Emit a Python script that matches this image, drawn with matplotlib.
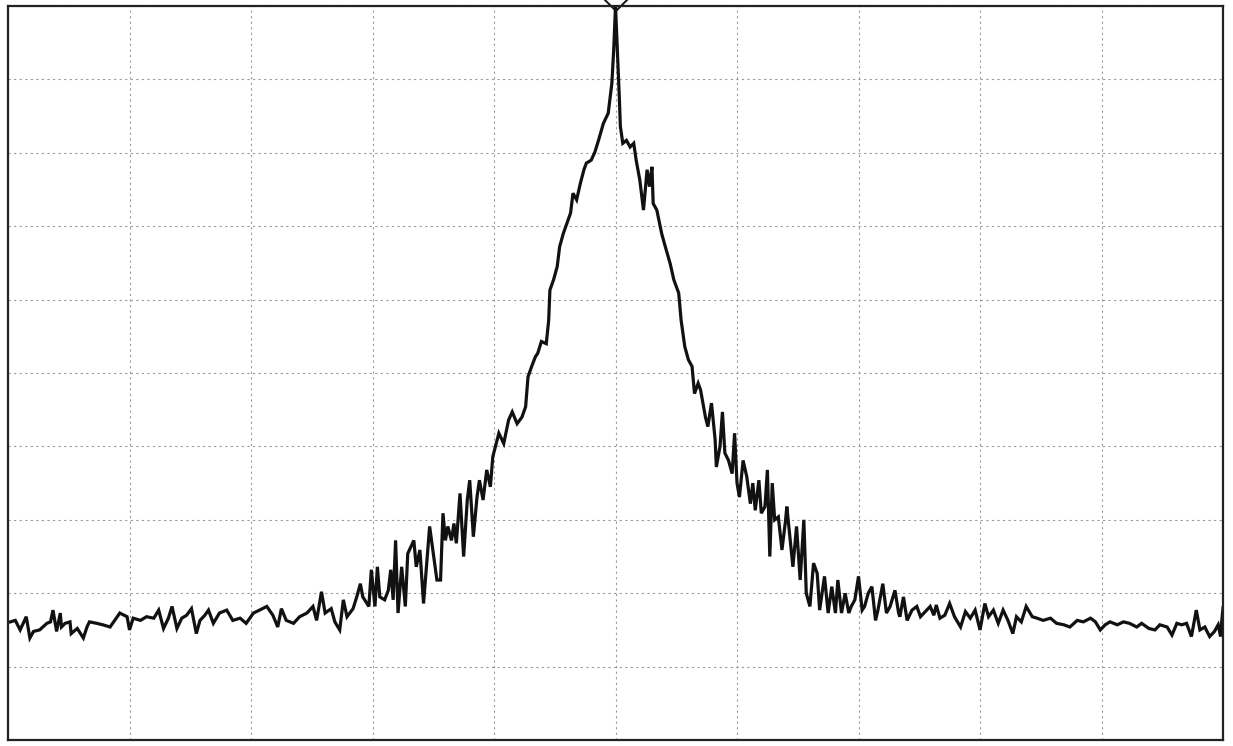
import matplotlib
matplotlib.use("Agg")
import matplotlib.pyplot as plt

# trace readout: horizontal position in divisions (0..10), level in dB (ref 0 dB, 10 dB/div)
freq_div = [
    0.02, 0.06, 0.10, 0.15, 0.18, 0.21, 0.26, 0.32, 0.35, 0.37, 0.40, 0.43, 0.44, 0.47,
    0.51, 0.52, 0.57, 0.62, 0.65, 0.67, 0.73, 0.78, 0.84, 0.89, 0.92, 0.98, 1.00, 1.03,
    1.09, 1.14, 1.20, 1.24, 1.28, 1.32, 1.35, 1.39, 1.43, 1.47, 1.51, 1.55, 1.58, 1.62,
    1.65, 1.69, 1.74, 1.80, 1.85, 1.91, 1.96, 2.02, 2.07, 2.13, 2.18, 2.22, 2.25, 2.29,
    2.35, 2.40,
    2.46, 2.51, 2.54, 2.58, 2.61, 2.66, 2.69, 2.73, 2.76, 2.79, 2.84, 2.87, 2.90, 2.92,
    2.97, 2.99, 3.02, 3.04, 3.06, 3.10, 3.13, 3.15, 3.17, 3.19, 3.21, 3.24, 3.27, 3.29,
    3.34, 3.36, 3.39, 3.42, 3.45, 3.47, 3.50, 3.53, 3.56, 3.58, 3.60, 3.62, 3.65, 3.67,
    3.69, 3.72, 3.75, 3.78, 3.80, 3.83, 3.86, 3.88, 3.91, 3.94, 3.97,
    3.99, 4.04, 4.08, 4.12, 4.15, 4.19, 4.23, 4.26, 4.28, 4.31, 4.34, 4.36, 4.39, 4.43,
    4.45, 4.46, 4.49, 4.52, 4.54, 4.57, 4.60, 4.63, 4.65, 4.68, 4.71, 4.74, 4.76, 4.80,
    4.83, 4.86, 4.90, 4.94, 4.97, 4.985, 5.00, 5.015, 5.03, 5.04, 5.06, 5.09, 5.12, 5.15,
    5.17, 5.20, 5.23, 5.26, 5.28, 5.30, 5.31, 5.34, 5.38, 5.41, 5.45, 5.48, 5.52, 5.54,
    5.57, 5.60, 5.63, 5.65, 5.68,
    5.70, 5.74, 5.76, 5.79, 5.82, 5.83, 5.86, 5.88, 5.90, 5.93, 5.96, 5.98, 6.00, 6.02,
    6.05, 6.08, 6.11, 6.13, 6.15, 6.18, 6.20, 6.23, 6.25, 6.27, 6.29, 6.31, 6.34, 6.37,
    6.40, 6.41, 6.44, 6.46, 6.49, 6.52, 6.55, 6.57, 6.60, 6.63, 6.66, 6.68, 6.72, 6.75,
    6.78, 6.81, 6.83, 6.86, 6.89, 6.92, 6.94, 6.97, 7.00, 7.03, 7.05, 7.08, 7.11, 7.14,
    7.16, 7.20, 7.23, 7.26, 7.30, 7.33,
    7.34, 7.37, 7.40, 7.44, 7.48, 7.51, 7.55, 7.59, 7.62, 7.64, 7.67, 7.71, 7.75, 7.79,
    7.84, 7.88, 7.92, 7.96, 8.00, 8.04, 8.07, 8.11, 8.15, 8.19, 8.23, 8.27, 8.30, 8.34,
    8.38, 8.43, 8.47, 8.52, 8.58, 8.63, 8.69, 8.74, 8.80, 8.85, 8.91, 8.95, 8.99, 9.03,
    9.07, 9.13, 9.18, 9.23, 9.29, 9.33, 9.39, 9.44, 9.48, 9.54, 9.58, 9.62, 9.66, 9.70,
    9.74, 9.78, 9.81, 9.85, 9.89, 9.93, 9.96, 9.98, 9.99, 10.00,
]
level_db = [
    -83.9, -83.7, -85.0, -83.2, -86.1, -85.2, -85.0, -84.1, -83.9, -82.3, -85.2, -82.7, -84.6, -84.1,
    -83.9, -85.5, -84.8, -86.1, -84.6, -83.9, -84.1, -84.3, -84.6, -83.4, -82.7, -83.2, -85.0, -83.4,
    -83.7, -83.2, -83.4, -82.3, -84.8, -83.4, -81.8, -84.8, -83.4, -83.0, -82.1, -85.5, -83.7, -83.0,
    -82.3, -84.1, -82.7, -82.3, -83.7, -83.4, -84.1, -82.7, -82.3, -81.8, -83.0, -84.6, -82.1, -83.7,
    -84.1, -83.2,
    -82.7, -81.8, -83.7, -79.8, -82.7, -82.1, -83.9, -85.0, -80.9, -83.2, -82.1, -80.5, -78.7, -80.5,
    -81.8, -76.8, -81.8, -76.4, -80.5, -80.9, -79.6, -76.8, -80.9, -72.8, -82.7, -76.4, -81.8, -74.6,
    -72.8, -76.4, -74.1, -81.4, -75.0, -70.9, -74.6, -78.2, -78.2, -69.1, -72.8, -70.9, -72.8, -70.5,
    -73.2, -66.4, -75.0, -67.3, -64.6, -72.3, -66.9, -64.6, -67.3, -63.2, -65.5,
    -61.4, -58.2, -59.6, -56.4, -55.3, -56.9, -56.0, -54.6, -50.5, -49.1, -47.8, -47.3, -45.7, -46.0,
    -42.8, -38.7, -37.3, -35.5, -32.8, -31.0, -29.6, -28.2, -25.5, -26.4, -24.2, -22.3, -21.4, -21.0,
    -19.9, -18.3, -16.0, -14.6, -10.5, -6.0, 0.0, -6.0, -11.9, -16.4, -18.7, -18.3, -19.2, -18.7,
    -21.0, -23.7, -27.8, -22.3, -24.6, -21.9, -26.9, -27.8, -31.0, -32.8, -35.1, -37.3, -39.1, -42.8,
    -46.4, -48.2, -49.1, -52.8, -51.4,
    -52.3, -56.0, -57.3, -54.1, -59.1, -62.8, -60.0, -55.3, -60.9, -61.9, -63.7, -58.2, -65.0, -66.9,
    -61.9, -64.1, -67.8, -65.0, -68.7, -64.6, -69.1, -68.2, -63.2, -75.0, -65.0, -70.0, -69.6, -74.1,
    -70.0, -68.2, -73.2, -76.4, -70.9, -78.2, -70.0, -80.0, -81.8, -75.9, -77.3, -82.3, -77.7, -82.7,
    -79.1, -82.7, -78.2, -82.7, -80.0, -82.7, -81.8, -80.9, -77.7, -82.3, -81.8, -80.0, -79.1, -83.7,
    -82.3, -78.7, -82.7, -81.8, -79.6, -82.7,
    -83.2, -80.5, -83.7, -82.3, -81.8, -83.2, -82.5, -81.8, -83.0, -81.6, -83.4, -83.0, -81.4, -83.2,
    -84.6, -82.5, -83.4, -82.3, -85.0, -81.4, -83.2, -82.3, -84.1, -82.3, -83.7, -85.5, -83.2, -83.9,
    -81.8, -83.2, -83.4, -83.7, -83.4, -84.1, -84.3, -84.6, -83.7, -83.9, -83.4, -83.9, -85.0, -84.3,
    -83.9, -84.3, -83.9, -84.1, -84.6, -84.1, -84.8, -85.0, -84.3, -84.6, -85.7, -84.1, -84.3, -84.1,
    -85.9, -82.3, -85.0, -84.6, -85.9, -85.2, -84.3, -85.9, -83.7, -82.0,
]

ref_level = 0.0
db_per_div = 10
n_div = 10

fig = plt.figure(figsize=(12.33, 7.46), dpi=100)
ax = fig.add_axes([0.0065, 0.008, 0.9854, 0.9839])

ax.plot(freq_div, level_db, color="#111111", linewidth=2.3, solid_joinstyle="miter")

# marker on the carrier peak
peak_i = level_db.index(max(level_db))
ax.plot(freq_div[peak_i], level_db[peak_i] + 1.0, marker="D", markersize=12,
        markerfacecolor="none", markeredgecolor="#111111", markeredgewidth=1.4,
        clip_on=False)

ax.set_xlim(0, n_div)
ax.set_ylim(ref_level - db_per_div * n_div, ref_level)
ax.set_xticks(range(0, n_div + 1))
ax.set_yticks(range(int(ref_level - db_per_div * n_div), int(ref_level) + 1, db_per_div))
ax.tick_params(left=False, bottom=False, labelleft=False, labelbottom=False)
ax.grid(True, color="#9a9a9a", linestyle=(0, (2, 3)), linewidth=0.8)

for side in ax.spines.values():
    side.set_color("#222222")
    side.set_linewidth(1.6)

fig.savefig("out.png", dpi=100)
